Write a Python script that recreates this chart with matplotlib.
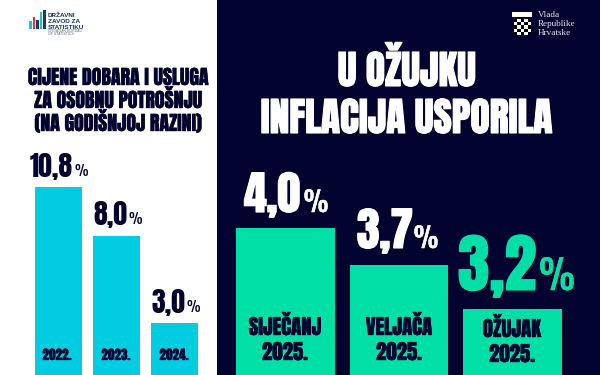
import numpy as np
import matplotlib
matplotlib.use('Agg')
import matplotlib.pyplot as plt
import matplotlib.patheffects as pe

# podaci
godine = ['2022.', '2023.', '2024.']
cijene = [10.8, 8.0, 3.0]
cijene_txt = ['10,8', '8,0', '3,0']
mjeseci = ['SIJEČANJ\n2025.', 'VELJAČA\n2025.', 'OŽUJAK\n2025.']
inflacija_txt = ['4,0', '3,7', '3,2']
# visine stupaca kako su nacrtane na slici (nisu proporcionalne postotku)
inflacija_visina = [147, 110, 66]

NAVY = '#02032e'
CYAN = '#00cde2'
GREEN = '#00e0a6'
USKI = ['Anton', 'Liberation Sans', 'DejaVu Sans']

fig = plt.figure(figsize=(6, 3.75), dpi=100, facecolor='white')
W, H = 600, 375


def box(x0, y0, x1, y1):
    # y ide odozgo kao na slici
    return fig.add_axes([x0 / W, 1 - y1 / H, (x1 - x0) / W, (y1 - y0) / H])


def txt(x, y, s, size, color=NAVY, ha='center', family=USKI, weight='normal', deblji=0):
    t = fig.text(x / W, 1 - y / H, s, fontsize=size, color=color, ha=ha, va='baseline',
                 family=family, fontweight=weight)
    if deblji:
        t.set_path_effects([pe.withStroke(linewidth=deblji, foreground=color)])
    return t


# pozadina desno
bg = box(217, 0, 600, 375)
bg.set_facecolor(NAVY)
bg.set_xticks([])
bg.set_yticks([])
for s in bg.spines.values():
    s.set_visible(False)

# lijevi stupci
ax1 = box(35, 100, 198, 375)
ax1.patch.set_alpha(0)
ax1.bar(range(3), cijene, width=0.82, color=CYAN)
ax1.set_xlim(-0.41, 2.41)
ax1.set_ylim(0, 275 / 17.4)
ax1.axis('off')

# desni stupci
ax2 = box(236, 150, 562, 375)
ax2.patch.set_alpha(0)
ax2.bar(range(3), inflacija_visina, width=0.87, color=GREEN)
ax2.set_xlim(-0.435, 2.435)
ax2.set_ylim(0, 225)
ax2.axis('off')

# naslovi
txt(118, 85, 'CIJENE DOBARA I USLUGA', 14.3, deblji=0.3)
txt(118, 108, 'ZA OSOBNU POTROŠNJU', 14.3, deblji=0.3)
txt(118, 131, '(NA GODIŠNJOJ RAZINI)', 14.3, deblji=0.3)
txt(407, 86, 'U OŽUJKU', 28.5, color='white', deblji=0.8)
txt(407, 133, 'INFLACIJA USPORILA', 28.5, color='white', deblji=0.8)

# vrijednosti lijevo
lx = [51, 110, 168]
ly = [177, 225, 313]
px = [81, 135, 193]
for x, y, p, s in zip(lx, ly, px, cijene_txt):
    txt(x, y, s, 20)
    txt(p, y - 1, '%', 11, family=['Oswald', 'Liberation Sans'])
for x, g in zip([57, 116, 174], godine):
    txt(x, 360, g, 9.5, deblji=0.2)

# vrijednosti desno
rx = [272, 385, 497]
ry = [212, 248, 290]
rp = [316, 426, 557]
rc = ['white', 'white', GREEN]
rs = [33, 33, 46]
rps = [20, 20, 29]
for x, y, p, s, c, f, fp in zip(rx, ry, rp, inflacija_txt, rc, rs, rps):
    txt(x, y, s, f, color=c, deblji=0.8)
    txt(p, y, '%', fp, color=c, family=['Oswald', 'Liberation Sans'], weight='bold', deblji=0.4)

for x, m, yb in zip([285, 399, 512], mjeseci, [335, 335, 337]):
    a, b = m.split('\n')
    txt(x, yb, a, 15, deblji=0.3)
    txt(x, yb + 25, b, 15, deblji=0.3)

# logo DZS
lg = box(29, 9, 46, 29)
lg.bar([0, 1, 2, 3, 4], [8, 12, 9, 17, 19], width=0.8,
       color=['#19c3d6', '#e8304a', '#0f3f63', '#19c3d6', '#0f3f63'])
lg.set_xlim(-0.5, 4.5)
lg.set_ylim(0, 20)
lg.axis('off')
for y, s in zip([17, 23, 29], ['DRŽAVNI', 'ZAVOD ZA', 'STATISTIKU']):
    txt(48, y, s, 4.6, color='#17325c', ha='left', family='Liberation Sans', weight='bold')
for y, s in zip([32, 35], ['CROATIAN BUREAU', 'OF STATISTICS']):
    txt(48, y, s, 2.6, color='#5a6c85', ha='left', family='Liberation Sans')

# grb i Vlada
grb = box(514, 19, 531, 35)
sah = np.indices((5, 5)).sum(axis=0) % 2
grb.imshow(sah, cmap='gray', interpolation='nearest', aspect='auto')
grb.axis('off')
kruna = box(512, 12, 532, 17)
kruna.set_facecolor('white')
kruna.set_xticks([])
kruna.set_yticks([])
for s in kruna.spines.values():
    s.set_visible(False)
for y, s in zip([17, 26, 35], ['Vlada', 'Republike', 'Hrvatske']):
    txt(538, y, s, 6.6, color='#e8e8ee', ha='left', family=['Liberation Serif', 'DejaVu Serif'])

fig.savefig('out.png', dpi=100)
